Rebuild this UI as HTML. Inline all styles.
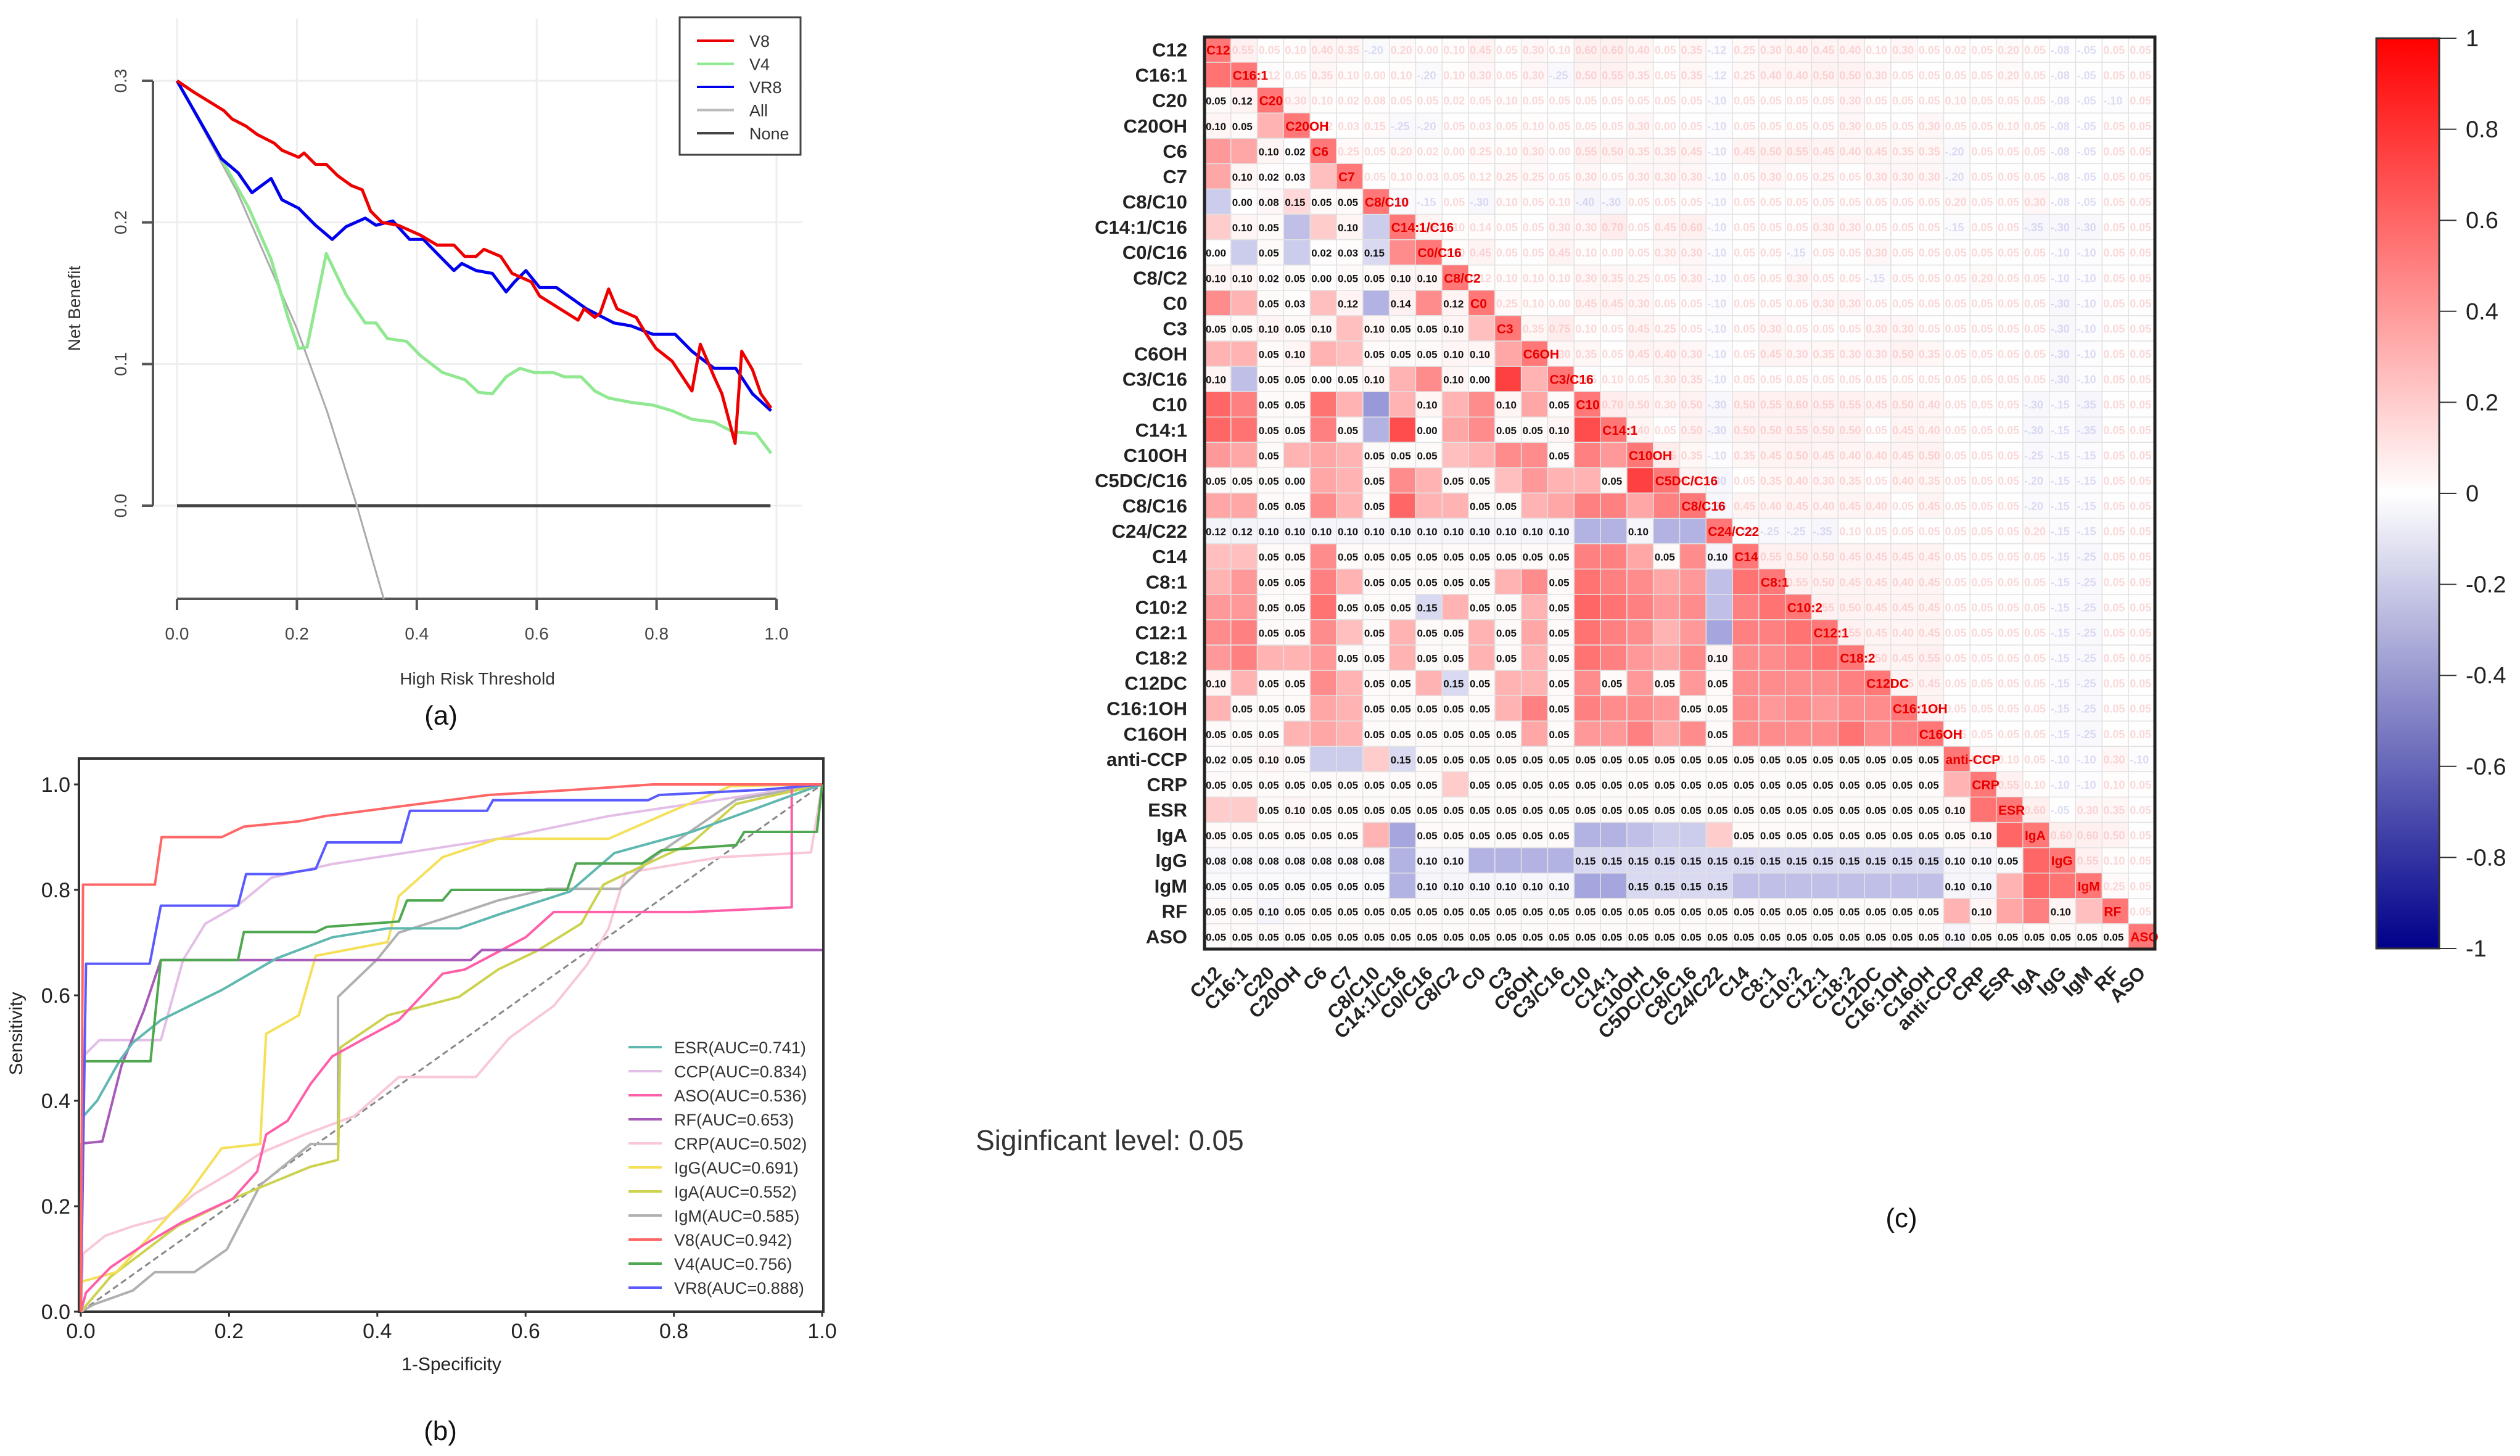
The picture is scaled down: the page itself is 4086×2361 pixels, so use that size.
<!DOCTYPE html>
<html><head><meta charset="utf-8"><style>
html,body{margin:0;padding:0;background:#fff;}
svg{display:block;font-family:"Liberation Sans",Arial,sans-serif;}
</style></head><body>
<svg id="fig" width="4086" height="2361" viewBox="0 0 4086 2361" xmlns="http://www.w3.org/2000/svg">
<g id="pa"></g>
<g id="pb"></g>
<g id="pc"></g>
<g id="cb"></g>
<text x="1582" y="1865" font-size="46" fill="#333">Siginficant level: 0.05</text>
<text x="3083" y="1990" font-size="44" fill="#111" text-anchor="middle">(c)</text>
</svg>
<script>
// ---------- Panel (a) data ----------
const dcaTicksX = [0,0.2,0.4,0.6,0.8,1.0];
const dcaTicksY = [0,0.1,0.2,0.3];
const v8T = [0,.028,.078,.092,.115,.134,.162,.175,.203,.212,.231,.249,.268,.291,.309,.323,.342,.369,.406,.434,.462,.48,.499,.512,.54,.559,.591,.605,.669,.679,.697,.706,.72,.734,.766,.78,.799,.826,.859,.873,.896,.909,.931,.942,.96,.974,.991];
const v8NB = [.3,.292,.279,.273,.268,.262,.256,.251,.246,.249,.241,.241,.233,.226,.223,.208,.2,.198,.191,.184,.184,.176,.176,.181,.176,.164,.158,.148,.131,.139,.133,.136,.153,.139,.133,.123,.111,.102,.081,.114,.091,.079,.044,.109,.096,.079,.069];
const vr8T = [0,.074,.102,.125,.157,.175,.203,.231,.259,.282,.314,.332,.36,.388,.411,.434,.462,.475,.499,.526,.549,.563,.582,.605,.633,.683,.729,.757,.794,.831,.859,.896,.932,.96,.991];
const vr8NB = [.3,.245,.235,.221,.231,.216,.21,.198,.188,.197,.203,.198,.201,.188,.188,.178,.166,.171,.166,.164,.151,.158,.166,.154,.154,.139,.129,.127,.121,.121,.109,.097,.097,.079,.067];
const v4T = [0,.074,.12,.157,.185,.203,.217,.249,.282,.314,.332,.351,.383,.406,.443,.48,.503,.526,.549,.572,.596,.628,.646,.674,.697,.72,.757,.794,.826,.859,.896,.928,.966,.991];
const v4NB = [.3,.245,.21,.174,.133,.111,.112,.178,.149,.129,.129,.118,.116,.106,.094,.089,.08,.079,.091,.097,.094,.094,.091,.091,.081,.076,.073,.071,.067,.061,.059,.052,.051,.037];
const allT = [0,0.1,0.2,0.25,0.3,0.345];
const allNB = [0.3,0.222,0.125,0.067,0,-0.066];
const noneT = [0,0.99];
const noneNB = [0,0];

// ---------- Panel (b) data ----------
const rocTicks = [0,0.2,0.4,0.6,0.8,1.0];
const rocNames = ["ESR(AUC=0.741)","CCP(AUC=0.834)","ASO(AUC=0.536)","RF(AUC=0.653)","CRP(AUC=0.502)","IgG(AUC=0.691)","IgA(AUC=0.552)","IgM(AUC=0.585)","V8(AUC=0.942)","V4(AUC=0.756)","VR8(AUC=0.888)"];
const rocColors = ["#5fb8b0","#e3bfe8","#ff5fa8","#a85ab8","#f9c8d6","#f5e05a","#cdd24e","#b0b0b0","#ff6666","#4fa84f","#5a5aff"];
const esrFPR=[0,.003,.022,.052,.07,.108,.19,.264,.339,.414,.51,.563,.66,.72,.824,1];
const esrTPR=[0,.37,.4,.475,.51,.553,.61,.67,.71,.727,.727,.753,.797,.87,.91,1];
const ccpFPR=[0,.003,.025,.108,.138,.168,.212,.257,.339,.563,.712,1];
const ccpTPR=[0,.484,.515,.515,.667,.736,.771,.823,.849,.897,.94,1];
const asoFPR=[0,.007,.04,.085,.137,.205,.238,.25,.279,.31,.339,.384,.429,.488,.518,.6,.638,.683,.824,.959,.959,1];
const asoTPR=[0,.036,.084,.127,.17,.214,.266,.336,.362,.432,.484,.519,.553,.641,.649,.71,.758,.758,.758,.767,1,1];
const rfFPR=[0,.001,.029,.055,.085,.108,.526,.541,1];
const rfTPR=[0,.319,.323,.467,.571,.667,.667,.686,.686];
const crpFPR=[0,.003,.033,.07,.115,.153,.205,.243,.302,.369,.429,.533,.578,.638,.683,.712,.735,.862,.985,1];
const crpTPR=[0,.11,.144,.162,.179,.223,.266,.301,.336,.371,.445,.445,.519,.58,.658,.727,.832,.862,.871,1];
const iggFPR=[0,.001,.048,.1,.145,.19,.242,.25,.294,.317,.414,.429,.488,.563,.712,.79,.877,1];
const iggTPR=[0,.057,.075,.153,.223,.31,.318,.527,.562,.675,.701,.788,.862,.897,.897,.945,.997,1];
const igaFPR=[0,.04,.13,.205,.22,.31,.347,.35,.414,.51,.563,.615,.675,.705,.757,.824,.884,1];
const igaTPR=[0,.066,.162,.214,.223,.275,.288,.501,.562,.597,.649,.684,.736,.81,.845,.889,.963,1];
const igmFPR=[0,.018,.07,.1,.153,.197,.242,.31,.347,.347,.399,.429,.488,.563,.63,.727,.772,.884,1];
const igmTPR=[0,.014,.04,.075,.075,.118,.24,.318,.318,.597,.667,.719,.745,.78,.802,.802,.862,.971,1];
const v8FPR=[0,.003,.1,.109,.19,.22,.294,.33,.44,.55,.668,.772,1];
const v8TPR=[0,.81,.81,.9,.9,.92,.93,.94,.96,.98,.99,1,1];
const v4FPR=[0,.003,.094,.108,.212,.22,.317,.332,.429,.44,.488,.5,.656,.668,.757,.783,.884,.895,.993,1];
const v4TPR=[0,.475,.475,.667,.667,.72,.72,.73,.74,.78,.78,.8,.8,.85,.85,.875,.885,.91,.91,1];
const vr8FPR=[0,.007,.093,.108,.212,.223,.272,.317,.332,.432,.444,.548,.556,.765,.78,.922,1];
const vr8TPR=[0,.66,.66,.77,.77,.83,.83,.84,.89,.89,.95,.95,.97,.97,.98,.99,1];

// ---------- Panel (c) data ----------
const varLabels = ["C12","C16:1","C20","C20OH","C6","C7","C8/C10","C14:1/C16","C0/C16","C8/C2","C0","C3","C6OH","C3/C16","C10","C14:1","C10OH","C5DC/C16","C8/C16","C24/C22","C14","C8:1","C10:2","C12:1","C18:2","C12DC","C16:1OH","C16OH","anti-CCP","CRP","ESR","IgA","IgG","IgM","RF","ASO"];
const corrRows = [
[],
[0.55],
[0.05,0.12],
[0.1,0.05,0.3],
[0.4,0.35,0.1,0.02],
[0.35,0.1,0.02,0.03,0.25],
[-0.2,0.0,0.08,0.15,0.05,0.05],
[0.2,0.1,0.05,-0.25,0.2,0.1,-0.2],
[0.0,-0.2,0.05,-0.2,0.02,0.03,-0.15,0.45],
[0.1,0.1,0.02,0.05,0.0,0.05,0.05,0.1,0.1],
[0.45,0.3,0.05,0.03,0.25,0.12,-0.3,0.14,0.45,0.12],
[0.05,0.05,0.1,0.05,0.1,0.25,0.1,0.05,0.05,0.1,0.25],
[0.3,0.3,0.05,0.1,0.3,0.25,0.05,0.05,0.05,0.1,0.1,0.35],
[0.1,-0.25,0.05,0.05,0.0,0.05,0.1,0.3,0.45,0.1,0.0,0.75,0.3],
[0.6,0.5,0.05,0.05,0.55,0.3,-0.4,0.3,0.1,0.3,0.45,0.1,0.35,0.05],
[0.6,0.55,0.05,0.05,0.5,0.05,-0.3,0.7,0.0,0.35,0.45,0.05,0.05,0.1,0.7],
[0.4,0.35,0.05,0.3,0.35,0.3,0.05,0.05,0.05,0.25,0.3,0.45,0.45,0.05,0.5,0.4],
[0.05,0.05,0.05,0.0,0.35,0.3,0.05,0.45,0.3,0.05,0.05,0.25,0.4,0.3,0.3,0.05,0.75],
[0.35,0.35,0.05,0.05,0.45,0.3,0.05,0.6,0.3,0.3,0.05,0.05,0.3,0.35,0.5,0.5,0.35,0.5],
[-0.12,-0.12,-0.1,-0.1,-0.1,-0.1,-0.1,-0.1,-0.1,-0.1,-0.1,-0.1,-0.1,-0.1,-0.3,-0.3,-0.1,-0.3,-0.3],
[0.25,0.25,0.05,0.05,0.45,0.05,0.05,0.05,0.05,0.05,0.05,0.05,0.05,0.05,0.5,0.5,0.35,0.05,0.45,-0.1],
[0.3,0.4,0.05,0.05,0.5,0.3,0.05,0.05,0.05,0.05,0.05,0.3,0.45,0.05,0.55,0.5,0.45,0.35,0.4,-0.25,0.55],
[0.4,0.4,0.05,0.05,0.55,0.05,0.05,0.05,-0.15,0.3,0.05,0.05,0.3,0.05,0.6,0.55,0.5,0.4,0.45,-0.25,0.5,0.55],
[0.45,0.5,0.05,0.05,0.45,0.25,0.05,0.3,0.05,0.05,0.3,0.05,0.35,0.05,0.55,0.5,0.45,0.3,0.4,-0.35,0.5,0.5,0.55],
[0.4,0.5,0.3,0.3,0.4,0.05,0.05,0.3,0.05,0.05,0.3,0.05,0.3,0.05,0.55,0.5,0.4,0.35,0.45,0.1,0.45,0.45,0.5,0.55],
[0.1,0.3,0.05,0.05,0.45,0.3,0.05,0.05,0.3,-0.15,0.05,0.3,0.3,0.05,0.45,0.05,0.4,0.05,0.4,0.05,0.45,0.45,0.45,0.45,0.5],
[0.3,0.05,0.05,0.05,0.35,0.3,0.05,0.05,0.05,0.05,0.05,0.3,0.5,0.05,0.5,0.45,0.45,0.4,0.05,0.05,0.45,0.4,0.45,0.4,0.45,0.45],
[0.05,0.05,0.05,0.3,0.35,0.3,0.05,0.05,0.05,0.05,0.05,0.05,0.35,0.05,0.4,0.4,0.5,0.35,0.45,0.05,0.45,0.45,0.45,0.45,0.55,0.45,0.5],
[0.02,0.05,0.1,0.05,-0.2,-0.2,0.2,-0.15,0.05,0.05,0.05,0.05,0.05,0.05,0.05,0.05,0.05,0.05,0.05,0.05,0.05,0.05,0.05,0.05,0.05,0.05,0.05,0.05],
[0.05,0.05,0.05,0.05,0.05,0.05,0.05,0.05,0.05,0.2,0.05,0.05,0.05,0.05,0.05,0.05,0.05,0.05,0.05,0.05,0.05,0.05,0.05,0.05,0.05,0.05,0.05,0.05,0.3],
[0.2,0.2,0.05,0.1,0.05,0.05,0.05,0.05,0.05,0.05,0.05,0.05,0.05,0.05,0.05,0.05,0.05,0.05,0.05,0.05,0.05,0.05,0.05,0.05,0.05,0.05,0.05,0.05,0.1,0.55],
[0.05,0.05,0.05,0.05,0.05,0.05,0.3,-0.35,0.05,0.05,0.05,0.05,0.05,0.05,-0.3,-0.3,-0.25,-0.2,-0.2,0.2,0.05,0.05,0.05,0.05,0.05,0.05,0.05,0.05,0.05,0.1,0.6],
[-0.08,-0.08,-0.08,-0.08,-0.08,-0.08,-0.08,-0.3,-0.1,-0.1,-0.3,-0.3,-0.3,-0.3,-0.15,-0.15,-0.15,-0.15,-0.15,-0.15,-0.15,-0.15,-0.15,-0.15,-0.15,-0.15,-0.15,-0.15,-0.1,-0.1,-0.05,0.6],
[-0.05,-0.05,-0.05,-0.05,-0.05,-0.05,-0.05,-0.3,-0.1,-0.1,-0.1,-0.1,-0.1,-0.1,-0.35,-0.35,-0.15,-0.15,-0.15,-0.15,-0.25,-0.25,-0.25,-0.25,-0.25,-0.25,-0.25,-0.25,-0.1,-0.1,0.3,0.6,0.55],
[0.05,0.05,-0.1,0.05,0.05,0.05,0.05,0.05,0.05,0.05,0.05,0.05,0.05,0.05,0.05,0.05,0.05,0.05,0.05,0.05,0.05,0.05,0.05,0.05,0.05,0.05,0.05,0.05,0.3,0.1,0.35,0.5,0.1,0.25],
[0.05,0.05,0.05,0.05,0.05,0.05,0.05,0.05,0.05,0.05,0.05,0.05,0.05,0.05,0.05,0.05,0.05,0.05,0.05,0.05,0.05,0.05,0.05,0.05,0.05,0.05,0.05,0.05,-0.1,0.05,0.05,0.05,0.05,0.05,0.05]
];
const cbTicks = [1,0.8,0.6,0.4,0.2,0,-0.2,-0.4,-0.6,-0.8,-1];

const NS="http://www.w3.org/2000/svg";
function mk(tag, attrs, parent, txt){
  const e=document.createElementNS(NS,tag);
  for(const k in attrs) e.setAttribute(k,attrs[k]);
  if(txt!==undefined) e.textContent=txt;
  parent.appendChild(e); return e;
}
const fmt=v=>(Math.round(v*10)/10).toFixed(1);

// ================= Panel A =================
(function(){
  const g=document.getElementById('pa');
  const X0=287,X1=1259,Y0=820,Y3=131;
  const sx=t=>X0+t*(X1-X0);
  const sy=v=>Y0-(v/0.3)*(Y0-Y3);
  dcaTicksX.forEach(t=>{const l=mk('line',{x1:sx(t),x2:sx(t),y1:30,y2:sy(-0.066),stroke:'#eeeeee','stroke-width':3},g);
    
    });
  dcaTicksY.forEach(v=>{const l=mk('line',{x1:250,x2:1300,y1:sy(v),y2:sy(v),stroke:'#eeeeee','stroke-width':3},g);
    
    });
  const ya=mk('line',{x1:248,x2:248,y1:sy(0.3),y2:sy(0),stroke:'#555','stroke-width':4},g);
  
  
  const xa=mk('line',{x1:sx(0),x2:sx(1),y1:971,y2:971,stroke:'#555','stroke-width':4},g);
  
  
  dcaTicksY.forEach(v=>{
    const t=mk('line',{x1:230,x2:248,y1:sy(v),y2:sy(v),stroke:'#555','stroke-width':4},g);
    
    
    const tx=mk('text',{x:0,y:0,transform:`translate(205,${sy(v)}) rotate(-90)`,'text-anchor':'middle','font-size':28,fill:'#444'},g,fmt(v));
    
    
  });
  dcaTicksX.forEach(v=>{
    const t=mk('line',{x1:sx(v),x2:sx(v),y1:971,y2:989,stroke:'#555','stroke-width':4},g);
    
    
    const tx=mk('text',{x:sx(v),y:1037,'text-anchor':'middle','font-size':28,fill:'#444'},g,fmt(v));
    
    
  });
  const yt=mk('text',{x:0,y:0,transform:'translate(130,500) rotate(-90)','text-anchor':'middle','font-size':28,fill:'#333'},g,'Net Benefit');
  
  
  const xt=mk('text',{x:774,y:1110,'text-anchor':'middle','font-size':28,fill:'#333'},g,'High Risk Threshold');
  
  
  const pl=mk('text',{x:715,y:1175,'text-anchor':'middle','font-size':44,fill:'#111'},g,'(a)');
  
  
  const series=[[noneT,noneNB,'#444','none'],[allT,allNB,'#aaaaaa','all'],[v4T,v4NB,'#90e890','v4'],[vr8T,vr8NB,'#0000ee','vr8'],[v8T,v8NB,'#ee0000','v8']];
  series.forEach(s=>{
    const pts=s[0].map((t,i)=>sx(t)+','+sy(s[1][i])).join(' ');
    const p=mk('polyline',{points:pts,fill:'none',stroke:s[2],'stroke-width':s[3]==='all'?3:5,'stroke-linejoin':'round'},g);
    
    
  });
  const lg=mk('g',{},g);
  
  
  mk('rect',{x:1102,y:28,width:196,height:223,fill:'#fff',stroke:'#444','stroke-width':3},lg);
  const leg=[['V8','#ee0000'],['V4','#90e890'],['VR8','#0000ee'],['All','#bbbbbb'],['None','#444']];
  leg.forEach((l,i)=>{
    const y=66+i*37.5;
    const e=mk('g',{},lg);
    
    
    mk('line',{x1:1130,x2:1190,y1:y,y2:y,stroke:l[1],'stroke-width':4},e);
    mk('text',{x:1215,y:y+10,'font-size':27,fill:'#333'},e,l[0]);
  });
})();

// ================= Panel B =================
(function(){
  const g=document.getElementById('pb');
  const X0=131,X1=1333,Y0=2127,Y1=1272;
  const sx=v=>X0+v*(X1-X0), sy=v=>Y0-v*(Y0-Y1);
  const fr=mk('rect',{x:128,y:1230,width:1207,height:897,fill:'none',stroke:'#333','stroke-width':4},g);
  
  
  rocTicks.forEach(v=>{
    const ty=mk('line',{x1:120,x2:128,y1:sy(v),y2:sy(v),stroke:'#333','stroke-width':3},g);
    
    
    const t=mk('text',{x:114,y:sy(v)+12,'text-anchor':'end','font-size':34,fill:'#222'},g,fmt(v));
    
    
    const tx=mk('line',{x1:sx(v),x2:sx(v),y1:2127,y2:2135,stroke:'#333','stroke-width':3},g);
    
    
    const t2=mk('text',{x:sx(v),y:2170,'text-anchor':'middle','font-size':34,fill:'#222'},g,fmt(v));
    
    
  });
  const yt=mk('text',{x:0,y:0,transform:'translate(36,1676) rotate(-90)','text-anchor':'middle','font-size':30,fill:'#222'},g,'Sensitivity');
  
  
  const xt=mk('text',{x:732,y:2222,'text-anchor':'middle','font-size':30,fill:'#222'},g,'1-Specificity');
  
  
  const pl=mk('text',{x:714,y:2335,'text-anchor':'middle','font-size':44,fill:'#111'},g,'(b)');
  
  
  const dg=mk('line',{x1:sx(0),y1:sy(0),x2:sx(1),y2:sy(1),stroke:'#888','stroke-width':3,'stroke-dasharray':'10,6'},g);
  
  
  const fpr=[esrFPR,ccpFPR,asoFPR,rfFPR,crpFPR,iggFPR,igaFPR,igmFPR,v8FPR,v4FPR,vr8FPR];
  const tpr=[esrTPR,ccpTPR,asoTPR,rfTPR,crpTPR,iggTPR,igaTPR,igmTPR,v8TPR,v4TPR,vr8TPR];
  const order=[4,1,7,6,5,2,3,0,9,10,8];
  order.forEach(k=>{
    const pts=fpr[k].map((x,i)=>sx(x)+','+sy(tpr[k][i])).join(' ');
    const p=mk('polyline',{points:pts,fill:'none',stroke:rocColors[k],'stroke-width':4,'stroke-linejoin':'round'},g);
    
    
  });
  const lg=mk('g',{},g);
  
  
  rocNames.forEach((n,i)=>{
    const y=1698+i*39;
    const e=mk('g',{},lg);
    
    
    mk('line',{x1:1019,x2:1073,y1:y,y2:y,stroke:rocColors[i],'stroke-width':4},e);
    mk('text',{x:1093,y:y+10,'font-size':27,fill:'#333'},e,n);
  });
})();

// ================= Panel C =================
function corrColor(r){
  const a=Math.min(1,Math.abs(r));
  if(r>=0){const v=Math.round(255-(255)*a);return `rgb(255,${v},${v})`;}
  const c=Math.round(255-255*a), b=Math.round(255-(255-160)*a);
  return `rgb(${c},${c},${b})`;
}
(function(){
  const g=document.getElementById('pc');
  const n=varLabels.length;
  const L=1953,T=60,W=1541,H=1479;
  const cw=W/n, ch=H/n;
  const cx=j=>L+j*cw, cy=i=>T+i*ch;
  const val=(i,j)=> i>j ? corrRows[i][j] : corrRows[j][i];
  for(let i=0;i<n;i++){
    for(let j=0;j<n;j++){
      if(i===j){
        const c=mk('rect',{x:cx(j),y:cy(i),width:cw,height:ch,fill:'#f77',stroke:'#ddd','stroke-width':1},g);
        
        
        continue;
      }
      const r=val(i,j);
      const lower=i>j;
      const fill=lower?corrColor(Math.abs(r)<0.15?r*0.4:r):corrColor(r*0.1);
      const c=mk('rect',{x:cx(j),y:cy(i),width:cw,height:ch,fill:fill,stroke:'#e2e2e2','stroke-width':1.5},g);
      
      
    }
  }
  for(let i=0;i<n;i++){
    for(let j=0;j<n;j++){
      if(i===j) continue;
      const r=val(i,j);
      if(i>j){
        if(Math.abs(r)<0.2){
          const t=mk('text',{x:cx(j)+2,y:cy(i)+ch/2+7,'font-size':17,'font-weight':'bold',fill:'#111'},g,Math.abs(r).toFixed(2));
          
          
        }
      } else {
        const t=mk('text',{x:cx(j)+2,y:cy(i)+ch/2+7,'font-size':18,'font-weight':'bold',fill:r>=0?'#f08080':'#9090d8','fill-opacity':0.3},g,r.toFixed(2).replace('-0.','-.'));
        
        
      }
    }
  }
  varLabels.forEach((lab,i)=>{
    const d=mk('text',{x:cx(i)+3,y:cy(i)+ch/2+8,'font-size':21,'font-weight':'bold',fill:'#e80000'},g,lab);
    
    
    const rl=mk('text',{x:1925,y:cy(i)+ch/2+11,'text-anchor':'end','font-size':31,'font-weight':'bold',fill:'#222'},g,lab);
    
    
    const xx=cx(i)+cw/2+8;
    const cl=mk('text',{x:0,y:0,transform:`translate(${xx},1580) rotate(-45)`,'text-anchor':'end','font-size':31,'font-weight':'bold',fill:'#222'},g,lab);
    
    
  });
  const fr=mk('rect',{x:L,y:T,width:W,height:H,fill:'none',stroke:'#222','stroke-width':5},g);
  
  
})();

// ================= Colorbar =================
(function(){
  const g=document.getElementById('cb');
  const defs=mk('defs',{},g);
  const lgd=mk('linearGradient',{id:'cbg',x1:0,y1:0,x2:0,y2:1},defs);
  mk('stop',{offset:'0','stop-color':'#ff0000'},lgd);
  mk('stop',{offset:'0.5','stop-color':'#ffffff'},lgd);
  mk('stop',{offset:'1','stop-color':'#00008b'},lgd);
  const top=62,bot=1538;
  const sy=v=>top+(1-v)/2*(bot-top);
  const r=mk('rect',{x:3853,y:top,width:102,height:bot-top,fill:'url(#cbg)',stroke:'#333','stroke-width':3},g);
  
  
  cbTicks.forEach(v=>{
    const l=mk('line',{x1:3955,x2:3983,y1:sy(v),y2:sy(v),stroke:'#333','stroke-width':2},g);
    
    
    const t=mk('text',{x:3998,y:sy(v)+13,'font-size':38,fill:'#222'},g,String(v));
    
    
  });
})();
</script>
</body></html>
